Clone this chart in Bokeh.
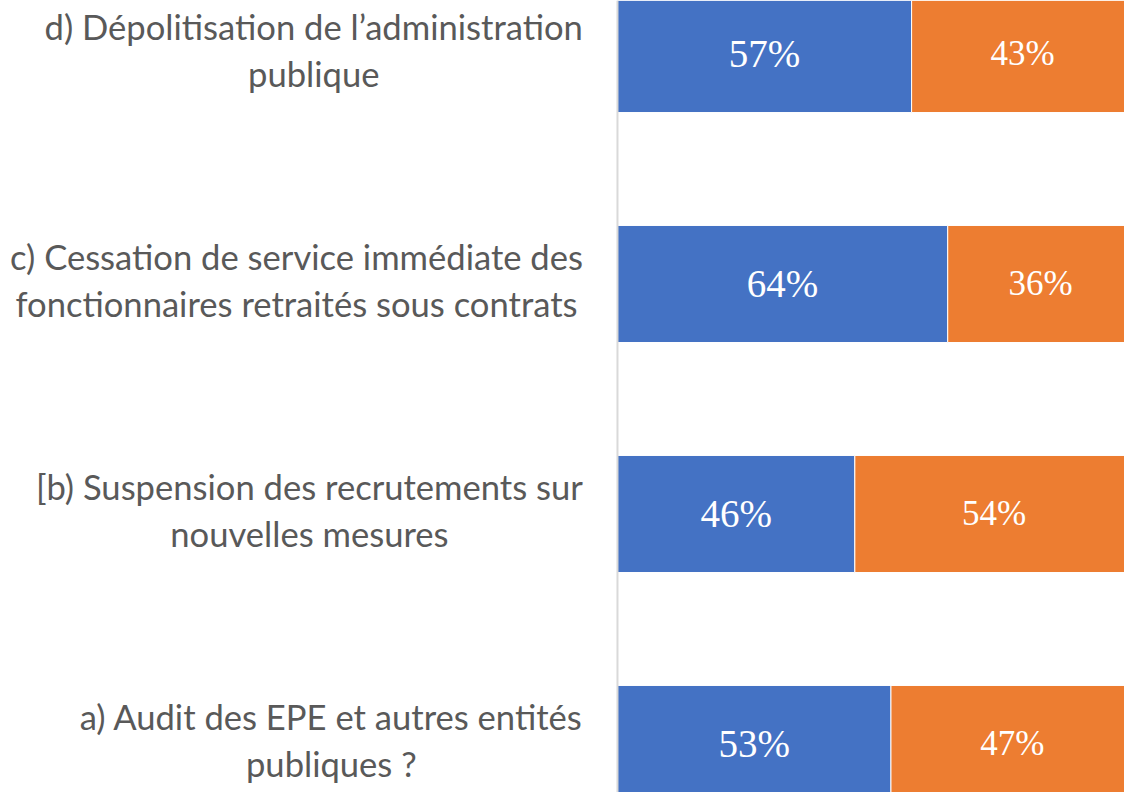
from bokeh.plotting import figure
from bokeh.models import ColumnDataSource, Range1d, Span
from bokeh.core.properties import value
from bokeh.embed import file_html
from bokeh.resources import INLINE

# ---- data ----
labels = [
    "a) Audit des EPE et autres entités\npubliques ?",
    "[b) Suspension des recrutements sur\nnouvelles mesures",
    "c) Cessation de service immédiate des\nfonctionnaires retraités sous contrats",
    "d) Dépolitisation de l\u2019administration\npublique",
]
oui = [53, 46, 64, 57]
non = [47, 54, 36, 43]

pos = list(range(len(labels)))
left2 = oui[:]
right2 = [a + b for a, b in zip(oui, non)]

src = ColumnDataSource(dict(
    y=pos, lab=labels, oui=oui, non=non,
    zero=[0] * len(pos), left2=left2, right2=right2,
    xo=[v / 2 for v in oui],
    xn=[a + b / 2 for a, b in zip(oui, non)],
    to=[f"{v}%" for v in oui],
    tn=[f"{v}%" for v in non],
    xl=[-6.7] * len(pos),
))

p = figure(width=1124, height=792, output_backend="svg", toolbar_location=None,
           x_range=Range1d(-119.57, 98.26), y_range=Range1d(-0.2109, 3.2326),
           min_border=0, outline_line_color=None)
p.xaxis.visible = False
p.yaxis.visible = False
p.xgrid.visible = False
p.ygrid.visible = False

p.hbar(y="y", left="zero", right="oui", height=0.509, source=src,
       fill_color="#4472C4", line_color="white", line_width=1)
p.hbar(y="y", left="left2", right="right2", height=0.509, source=src,
       fill_color="#ED7D31", line_color="white", line_width=1)

p.add_layout(Span(location=0, dimension="height", line_color="#D9D9D9", line_width=2))

p.text(x="xo", y="y", text="to", source=src, text_align="center", text_baseline="middle",
       text_color="white", text_font=value("Liberation Serif"), text_font_size="39px")
p.text(x="xn", y="y", text="tn", source=src, text_align="center", text_baseline="middle",
       text_color="white", text_font=value("Liberation Serif"), text_font_size="35px")

p.text(x="xl", y="y", text="lab", source=src, anchor=value("center_right"),
       text_align="center", text_baseline="middle", text_line_height=1.15,
       y_offset=-4,
       text_color="#595959", text_font=value("Lato"), text_font_size="34.6px")

open("out.html", "w").write(file_html(p, INLINE))
